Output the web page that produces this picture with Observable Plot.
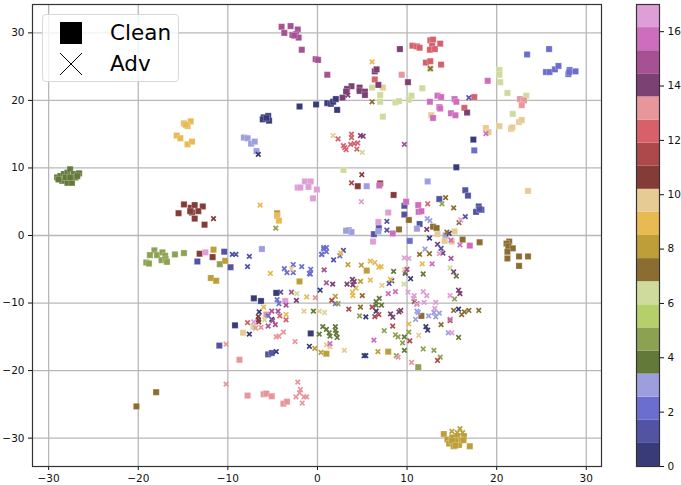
<!DOCTYPE html>
<html><head><meta charset="utf-8">
<script src="https://cdn.jsdelivr.net/npm/d3@7"></script>
<script src="https://cdn.jsdelivr.net/npm/@observablehq/plot@0.6"></script>
<style>
html,body{margin:0;padding:0;background:#fff;font-family:"DejaVu Sans",sans-serif;}
#root{position:relative;width:681px;height:485px;overflow:hidden;}
#root>svg,#root>div.p{position:absolute;left:0;top:0;}
#legend{position:absolute;left:42px;top:14px;width:137px;height:68px;border:1px solid #d8d8d8;border-radius:4px;background:rgba(255,255,255,.8);font-size:21.5px;color:#000;box-sizing:border-box;}
#legend .r{position:absolute;left:67px;line-height:24px;}
#legend svg{position:absolute;left:16px;}
</style></head><body><div id="root"></div>
<script>
const palette=["#393b79","#5254a3","#6b6ecf","#9c9ede","#637939","#8ca252","#b5cf6b","#cedb9c","#8c6d31","#bd9e39","#e7ba52","#e7cb94","#843c39","#ad494a","#d6616b","#e7969c","#7b4173","#a55194","#ce6dbd","#de9ed6"];
const barTicks=[0,2,4,6,8,10,12,14,16];
const axisTicks=[-30,-20,-10,0,10,20,30];

const clean0=[[-6,17.5],[-5.5,17.7],[-6.1,17.2],[-5.4,17],[-5.7,17.4],[-2,19.1],[-.15,19.4],[1.1,19.6],[1.5,19.5],[1.75,19.8],[2.05,20.2],[2.2,18.6],[17.4,14.2],[15.5,10.1],[-4.6,-8.5],[-7.1,-9.3],[-6.3,-9.7],[-9.2,-13.3],[-.75,-14.5]];
const clean1=[[16.5,6.7],[16.8,5.9],[18,4.3],[17.7,3.5],[18.3,3.8],[18.1,3.9],[13.6,5.4],[9.7,4.4],[9.7,3.1],[11.4,1.7],[6.85,1.1],[6.3,.2],[-10.4,-2.4],[-13.4,-3.85],[-9.7,-4.7],[-10.95,-16.3],[-5.5,-17.6],[-5.1,-17.4]];
const clean2=[[23.4,26.8],[25.85,27.6],[25.5,24.2],[25.9,24.2],[26.5,24.6],[26.9,25.1],[28,23.9],[28.15,24.5],[28.8,24.3],[28.1,24.2],[17.5,12.6],[10.3,-.8]];
const clean3=[[-8.2,14.5],[-7.8,14.4],[-7.4,13.6],[-7,13.9],[-6.8,12.5],[5.5,7.3],[12.3,8],[3.5,.8],[3.8,.5],[3.2,.7],[11.1,1],[6.8,.6],[-6.2,-2],[14.3,0]];
const clean4=[[-29.05,8.6],[-28.7,8.8],[-28.3,9.1],[-27.9,9.3],[-27.6,9.8],[-27.2,9.1],[-26.6,9.2],[-28.5,8.1],[-27.9,7.8],[-27.4,7.8],[-27,8.6],[-28.1,8.6],[-27.6,8.6],[-28.9,8.3],[-26.8,8.8]];
const clean5=[[-18.2,-2.2],[-18.7,-2.9],[-17.9,-2.9],[-17.3,-2.5],[-17,-3],[-17.4,-3.65],[-19.1,-4],[-18.8,-4.15],[-16.95,-3.5],[-16.8,-3.9],[-15.9,-2.8],[-14.9,-2.6],[-10.9,-4.25],[11.25,-19.5]];
const clean6=[];
const clean7=[[12.6,24.7],[20.3,24.5],[20.3,23.8],[20.4,22.7],[21.2,21.1],[23.3,20.7],[21.8,18],[6.1,21.9],[7,20.8],[7,19.8],[8.7,19.7],[9.1,19.9],[10.2,20.1],[10.5,20.7],[11.7,21.8],[7.3,17.6],[2.9,9.7],[-7.15,-13.5]];
const clean8=[[-18,-23.2],[-20.2,-25.3],[21.4,-.9],[21.1,-1.2],[21.3,-1.6],[21.8,-1.9],[21.2,-2.4],[22.5,-3.1],[23.5,-3.1],[21.2,-3.4],[22.5,-4.5],[16.2,-.6],[18.1,-1],[10.2,2.3],[9.1,.9],[12.9,1.3],[13.3,1.1],[11.6,-11.9]];
const clean9=[[-4.5,3.3],[-11.6,-2.1],[-10.3,-3.75],[-11.9,-6.3],[-11.3,-6.7],[-2,-6.8],[5.5,-5.2],[7.9,-17.2],[1,-17.5],[14.1,-29.4],[14.5,-30.2],[15.05,-29.9],[15.6,-29.7],[16.35,-29.7],[16,-30.3],[14.7,-30.8],[15.2,-31.2],[15.8,-31],[17,-31.2],[15.4,-30.4],[16.3,-30.3],[15,-30.4],[15.4,-31.1]];
const clean10=[[-14.9,16.6],[-14.15,16.9],[-14.5,16.2],[-14.7,16.4],[-15.7,14.8],[-15.3,14.4],[-14.5,13.5],[-14,13.9],[-4.5,2.9],[-4.3,2.2]];
const clean11=[[7.3,21.9],[12.7,17.8],[18.8,15.9],[19.1,15.3],[20.3,16.2],[21.6,15.8],[21.75,16],[22.5,16.8],[22.8,17.1],[23.5,6.6],[15.3,.6],[13.4,.2],[14.2,-.8],[15,-.9],[-8.3,-14.4]];
const clean12=[[-14.9,4.6],[-15.5,3.3],[-14.15,4.1],[-13.7,4.5],[-12.8,4.3],[-13.3,3.6],[-14,3.4],[-14.2,3.6],[-13.7,2.5],[-12.6,1.6],[4.5,7.3],[7,7.7],[8.5,6],[-13.15,-2.7],[-11.7,-3.2]];
const clean13=[];
const clean14=[[12.6,28.9],[12.9,29],[10.6,28.1],[11.1,28],[11.4,27.8],[13.7,28.4],[12.8,28.1],[12.55,27.5],[13.1,27.6],[12.1,25.6],[12.6,25.8],[13.8,25.3],[6.4,23.1],[17.5,20.5],[16.4,18.9]];
const clean15=[[9.4,23.8],[22.6,20.2],[23.05,20],[22.8,19.3],[-5.7,-11.7],[-8.7,-18.4],[-7.8,-23.7],[-6,-23.5],[-5.7,-23.4],[-5.1,-23.8],[-3.8,-24.9],[-3.4,-24.6]];
const clean16=[[6.4,24.3],[6.6,24.6],[6.8,22.3],[3.8,22.1],[3.3,21.7],[3.2,21.3],[4.7,21.9],[4.7,21.4],[5.3,21.3],[5.3,20.8],[2.8,20.4],[9.2,27.6],[10.1,22.7],[16.7,18.2]];
const clean17=[[-4,30.9],[-3,31],[-2.2,30.5],[-3.7,30],[-2.8,29.7],[-2.4,29.8],[-2.1,29.3],[-2.6,29.6],[-1.75,27.5],[-.2,26.1],[.07,26],[1.1,23.8]];
const clean18=[[19,22.9],[12.55,19.8],[13.4,20.7],[13.8,20.5],[15.3,20.2],[15.5,19.8],[13.6,19],[13.7,18.8],[14.9,18.1],[15.4,17.8],[12.9,17.4],[6.9,7.4],[11.25,4.5],[11.3,3.5],[11.6,3.6],[9.9,5],[8.4,.3],[17,-1.5]];
const clean19=[[-2.2,7.1],[-1.9,7.1],[-1.4,8],[-.75,8],[-1,7.2],[-.07,6.8],[-.5,5.5],[7.9,3.4],[6.8,2],[-12.5,-2.5],[-3.6,-9.7],[6.2,-.9]];

const adv0=[[-6.6,12],[14.7,.3],[.3,-8.1],[-6.5,-11.3],[-5.1,-12.4],[-7.6,-14.6],[-4.6,-17.2],[-.9,-16.4],[12.5,-.4],[10.4,-6.4],[15.75,-10.9],[6.55,-11.2],[5.4,-12.05],[12.1,-13.5],[12.3,-14],[5.2,-17.8],[5.4,-17.8]];
const adv1=[[16.9,20.4],[7.75,2.1],[7.75,.8],[16.5,2.8],[-9.5,-2.8],[-9.1,-2.8],[-7.6,-3.1],[-7.8,-4.6],[-4.1,-8.4],[13.8,-1.9],[2.9,-2.2],[1.8,-3.6],[9.8,-5.6],[8,-7.1],[8.3,-6.7]];
const adv2=[[-3.7,-4.9],[-3.4,-5.5],[-2.7,-5.5],[-2.7,-4.3],[-1.75,-4.6],[-.75,-5],[-.8,-5.7],[-.9,-5.6],[-4.5,-9.5],[-4.3,-10.1],[-5.5,-11.9],[.45,-2.8],[.7,-1.8],[1,-1.8],[.7,-2],[1,-2.4],[.5,-2.8],[2.5,-3],[2,-10.1]];
const adv3=[[12.25,2.5],[12.55,2.2],[12,-2],[11.1,-11.2],[11.25,-11.4],[12.4,-11.9],[13,-11.4],[13.2,-12.05],[13.6,-11.5],[10.95,-12.4],[14.6,-14.4]];
const adv4=[[-.45,-11.2],[.2,-14.6],[9.8,-5.5],[8.5,-5.3],[11.8,-5.7],[6.9,-9.3],[6.55,-9.8],[7.15,-10.3],[6.55,-10.3],[15.75,-15.1],[9.7,-15],[9.7,-17],[.6,-13.5],[1,-13.9],[1.3,-14.4],[1.4,-14.9],[2,-13.5],[2,-14],[2.1,-14.5],[2.2,-15.1],[15.5,-6]];
const adv5=[[-4.65,1.1],[13.9,4.7],[2.3,-10.1],[15.3,-9.4],[4.7,-11.9],[7.45,-14.1],[8.7,-14.7],[9,-15],[10.2,-14.3],[9.5,-15.9],[11.8,-16.8],[13,-17],[13.7,-18],[8.8,-17.8],[11.25,-19.5]];
const adv6=[];
const adv7=[[5,12.3],[-2.3,-8.6],[-5.9,-12.5],[14.8,-4.8],[9.65,-7.2],[.8,-11.4]];
const adv8=[[12.6,24.7],[6.1,19.8],[14.3,5.6],[15.2,4.1],[15.8,1.9],[14.45,.5],[11.4,-2.8],[12.5,-2.7],[5,-8.9],[10.8,-9.8],[4.8,-10.6],[15.2,-11.1],[16.1,-11.7],[16.4,-11.3],[16.9,-11.1],[18,-11.1],[14.8,-12.6],[13.8,-13.2]];
const adv9=[[-.3,-16.7],[.4,-17.3],[3.4,-4.3],[4.9,-4.4],[4.8,-6.8],[2,-9],[6.75,-17.2],[15,-29],[15.9,-28.6],[15.6,-29.2],[16.2,-29.2],[15.05,-29.9]];
const adv10=[[6.1,25.7],[-6.4,4.5],[-5.25,-5.6],[-6,-10.6],[-3.5,-11.7],[-1.2,-9.1],[2.6,-2.6],[5.9,-3.8],[6.4,-4],[6.85,-4.7],[7.1,-4.6],[11.7,-4.2],[8.15,-6.5],[5.9,-6.6],[3.9,-8.4],[3.95,-8.9],[4.3,-7.8],[10.2,-13.1]];
const adv11=[[1.75,14.8],[-2.9,-5],[-1.5,-11.2],[.2,-11.2],[9.7,-5.1],[7.2,-7.4],[11.3,-14.8],[3,-17],[1,-16.2],[1.4,-16.5]];
const adv12=[[-11.6,2.5],[4.95,9],[-6.6,-12],[-6.6,-12.5],[-6.55,-12.8]];
const adv13=[[3.8,7.8],[1.6,-9.6],[3.5,-10.9],[6.1,-10.6],[6.85,-11.7],[6.4,-12],[8.4,-13.4],[10.3,-15.6],[13.4,-18.5]];
const adv14=[[3.8,15],[3.8,14.5],[2.3,14.3],[2.9,13.3],[3.2,12.7],[3.7,13.5],[4.1,13.6],[4.5,13.7],[4.4,12.8],[3.05,13],[12.3,4.7],[-4.2,-11.9],[-3.5,-12.5],[-7.8,-12.9]];
const adv15=[[-.25,-9.2],[-6.9,-13.7],[-6.3,-13.6],[-4.6,-15],[-4.3,-14.9],[-3.8,-14.3],[-2.5,-15.7],[-10.2,-16.1],[-10.2,-22],[-2.2,-21.7],[-1.9,-22.8],[-2,-23.3],[-2.4,-23.9],[-1.5,-23.9],[-1.2,-23.9],[-1.7,-24.8],[10.5,-18.8],[9,-18]];
const adv16=[[3.4,20.8],[4.8,14.8],[5.1,14.7],[12.2,.9],[-2.35,-9.6],[13.4,-1.3],[14,-2.6],[15.2,-5.4],[1.7,-7.2],[3.3,-7.2],[3.9,-6.5],[4.1,-6.8],[3.95,-7.3],[8.15,-11.6],[8.4,-12.1],[9.1,-11.3],[9.3,-11.1],[15.75,-8.1],[15.9,-8.6]];
const adv17=[[9.7,13.5],[-2.9,-8.4],[-3.5,-10.3],[-5.1,-11.2],[-4.4,-11.2],[-5.5,-13.4],[-5,-12.6],[-4.7,-13.2],[14.9,-3.4],[10,-5],[.75,-5.1],[1,-7],[11.1,-10.1]];
const adv18=[[18.8,15.1],[15.9,-1.4],[14.9,-.7],[12.8,-4.2],[7.9,-8.6],[8.7,-8.3],[14.8,-12.4],[6.3,-15.5],[1.4,-16]];
const adv19=[[4.9,5],[16,2.3],[-7.1,-12.8],[9.7,-3.3],[10.2,-3.4],[13.6,-2.7],[10.1,-8.4],[10.8,-8.9],[10.7,-9.3],[11.1,-10.2],[11.9,-9.9],[11.8,-8.3],[12.2,-8.9],[13.2,-9.9],[13.1,-10.8],[14.8,-8.9],[15,-14.4]];

const cleanSets=[clean0,clean1,clean2,clean3,clean4,clean5,clean6,clean7,clean8,clean9,clean10,clean11,clean12,clean13,clean14,clean15,clean16,clean17,clean18,clean19];
const advSets=[adv0,adv1,adv2,adv3,adv4,adv5,adv6,adv7,adv8,adv9,adv10,adv11,adv12,adv13,adv14,adv15,adv16,adv17,adv18,adv19];
const rows=sets=>sets.flatMap((s,i)=>s.map(([x,y])=>({x,y,c:palette[i]})));

const root=document.getElementById("root");
const W=681,H=485,mt=4,mb=19;

const main=Plot.plot({
  width:W,height:H,marginLeft:32,marginRight:80,marginTop:mt,marginBottom:mb,
  style:{background:"transparent",fontFamily:"DejaVu Sans",fontSize:"10.5px",color:"#111"},
  x:{domain:[-31.8,31.7],ticks:axisTicks,label:null,tickSize:4,tickPadding:4},
  y:{domain:[-34.2,34.2],ticks:axisTicks,label:null,tickSize:4,tickPadding:4},
  color:{type:"identity"},
  marks:[
    Plot.gridX(axisTicks,{stroke:"#b8b8b8",strokeOpacity:1,strokeWidth:1.3}),
    Plot.gridY(axisTicks,{stroke:"#b8b8b8",strokeOpacity:1,strokeWidth:1.3}),
    Plot.dot(rows(cleanSets),{x:"x",y:"y",symbol:"square",r:3.5,fill:"c",fillOpacity:1,stroke:"#fff",strokeOpacity:.4,strokeWidth:.6}),
    Plot.dot(rows(advSets),{x:"x",y:"y",symbol:"times",r:2.2,stroke:"c",strokeWidth:1.7,strokeOpacity:1}),
    Plot.frame({stroke:"#333",strokeWidth:1.2})
  ]
});
root.appendChild(main);

const edges=d3.range(palette.length+1).map(i=>i*17/palette.length);
const bar=Plot.plot({
  width:W,height:H,marginLeft:636,marginRight:22,marginTop:mt,marginBottom:mb,
  style:{background:"transparent",fontFamily:"DejaVu Sans",fontSize:"10.5px",color:"#111"},
  x:{axis:null,domain:[0,1]},
  y:{domain:[0,17],ticks:barTicks,axis:"right",label:null,tickSize:4,tickPadding:4},
  color:{type:"identity"},
  marks:[
    Plot.rect(palette,{x1:0,x2:1,y1:(d,i)=>edges[i],y2:(d,i)=>edges[i+1],fill:d=>d,inset:0}),
    Plot.frame({stroke:"#333",strokeWidth:1.2})
  ]
});
root.appendChild(bar);

const lg=document.createElement("div");lg.id="legend";
lg.innerHTML=`<svg style="top:6px" width="24" height="24"><rect x="1" y="1" width="22" height="22" fill="#000"/></svg><div class="r" style="top:6px">Clean</div>
<svg style="top:37px" width="24" height="24"><path d="M1 1L23 23M23 1L1 23" stroke="#000" stroke-width="1"/></svg><div class="r" style="top:37px">Adv</div>`;
root.appendChild(lg);
</script></body></html>
